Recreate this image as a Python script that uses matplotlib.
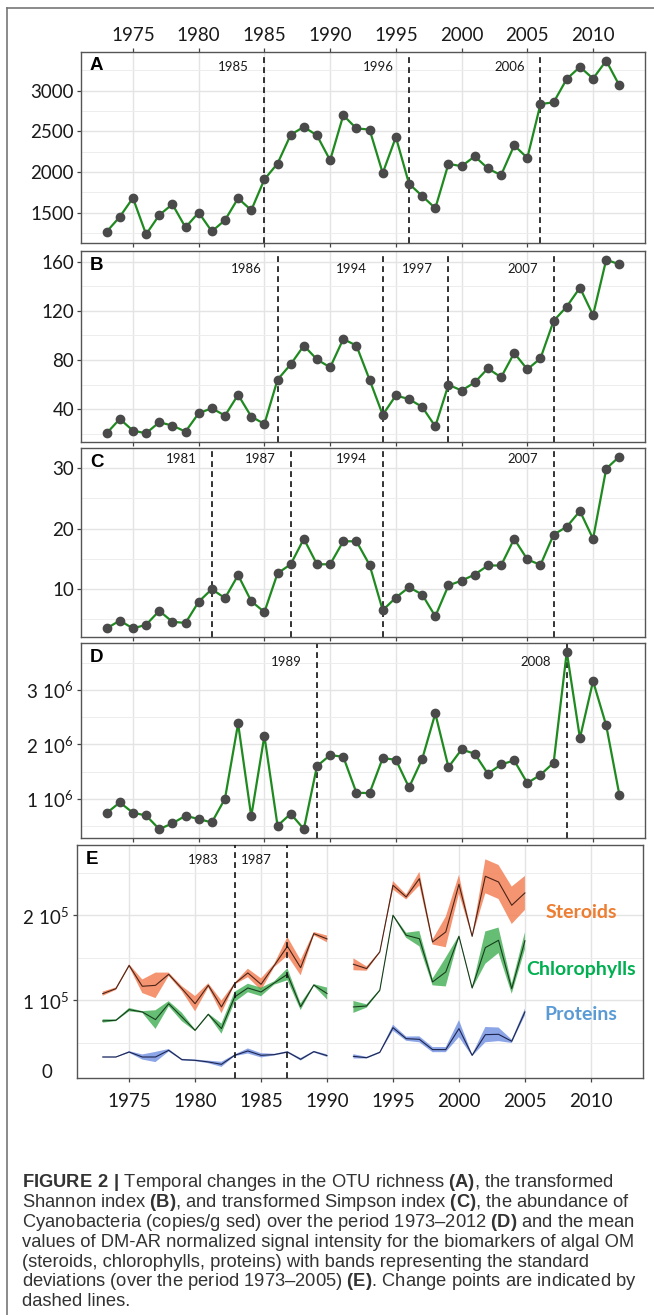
import numpy as np
import matplotlib.pyplot as plt
from matplotlib.lines import Line2D
from matplotlib.ticker import MultipleLocator, FixedLocator

plt.rcParams['font.family'] = ['Lato', 'DejaVu Sans']
plt.rcParams['mathtext.fontset'] = 'custom'
plt.rcParams['mathtext.rm'] = 'Lato'
plt.rcParams['mathtext.bf'] = 'Liberation Sans:bold'

# панели A-D: 1973-2012
years = np.arange(1973, 2013)
otu = [1268, 1451, 1683, 1236, 1472, 1606, 1321, 1504, 1272, 1410,
       1679, 1532, 1911, 2106, 2459, 2557, 2451, 2146, 2699, 2537,
       2524, 1988, 2431, 1858, 1707, 1557, 2102, 2073, 2195, 2045,
       1963, 2329, 2175, 2837, 2858, 3146, 3293, 3150, 3370, 3065]
shannon = [20.4, 32.1, 22.6, 20.4, 29.4, 26.7, 21.8, 36.7, 40.8, 34.8,
           51.7, 34.0, 28.0, 64.0, 76.5, 91.7, 80.5, 74.0, 97.1, 91.7,
           64.0, 35.4, 51.2, 48.2, 41.9, 26.0, 59.9, 55.2, 61.8, 73.2,
           65.9, 85.7, 72.4, 81.4, 111.8, 123.5, 138.8, 116.5, 161.6, 157.8]
simpson = [3.5, 4.8, 3.5, 4.1, 6.4, 4.6, 4.4, 7.9, 10.0, 8.5,
           12.3, 8.0, 6.2, 12.6, 14.1, 18.3, 14.1, 14.1, 17.9, 17.9,
           14.0, 6.5, 8.6, 10.3, 9.1, 5.5, 10.6, 11.4, 12.4, 13.9,
           13.9, 18.3, 14.9, 14.0, 19.0, 20.3, 22.9, 18.3, 29.9, 31.9]
cyano = [0.744, 0.939, 0.75, 0.70, 0.45, 0.555, 0.695, 0.634, 0.573, 1.006,
         2.384, 0.683, 2.159, 0.512, 0.732, 0.451, 1.604, 1.805, 1.774, 1.116,
         1.110, 1.75, 1.72, 1.213, 1.732, 2.567, 1.585, 1.909, 1.829, 1.463,
         1.634, 1.707, 1.293, 1.445, 1.665, 3.695, 2.116, 3.159, 2.348, 1.079]

# change points: where the line is drawn and what is written
cp_pos = [[1985, 1996, 2006], [1986, 1994, 1999, 2007], [1981, 1987, 1994, 2007], [1989, 2008]]
cp_lab = [['1985', '1996', '2006'], ['1986', '1994', '1997', '2007'],
          ['1981', '1987', '1994', '2007'], ['1989', '2008']]

# панель E: 1973-2005, 1991 missing (x 1e5)
e_years = np.arange(1973, 2006)
nan = np.nan
steroids = [1.078, 1.137, 1.41, 1.165, 1.176, 1.306, 1.137, 0.96, 1.176, 0.922,
            1.196, 1.322, 1.188, 1.41, 1.635, 1.384, 1.784, 1.722, nan,
            1.424, 1.373, 1.569, 2.353, 2.216, 2.431, 1.686, 1.804, 2.365, 1.753,
            2.459, 2.392, 2.118, 2.263]
steroids_sd = [0.025, 0.015, 0.015, 0.08, 0.15, 0.02, 0.03, 0.09, 0.025, 0.075,
               0.01, 0.05, 0.07, 0.02, 0.11, 0.09, 0.02, 0.04, nan,
               0.07, 0.025, 0.01, 0.05, 0.03, 0.08, 0.03, 0.18, 0.11, 0.01,
               0.2, 0.2, 0.22, 0.2]
chloro = [0.757, 0.765, 0.89, 0.863, 0.773, 0.96, 0.804, 0.647, 0.835, 0.667,
          1.04, 1.145, 1.098, 1.204, 1.306, 0.925, 1.18, 1.08, nan,
          0.922, 0.933, 1.118, 2.0, 1.765, 1.725, 1.216, 1.333, 1.753, 1.145,
          1.62, 1.706, 1.137, 1.70]
chloro_sd = [0.02, 0.01, 0.02, 0.01, 0.11, 0.03, 0.05, 0.01, 0.01, 0.06,
             0.06, 0.05, 0.05, 0.02, 0.07, 0.04, 0.01, 0.07, nan,
             0.07, 0.02, 0.01, 0.01, 0.03, 0.09, 0.04, 0.17, 0.01, 0.01,
             0.19, 0.15, 0.06, 0.1]
proteins = [0.333, 0.333, 0.392, 0.333, 0.333, 0.412, 0.302, 0.294, 0.275, 0.247,
            0.353, 0.404, 0.353, 0.361, 0.392, 0.306, 0.396, 0.349, nan,
            0.341, 0.325, 0.388, 0.678, 0.549, 0.541, 0.42, 0.42, 0.667, 0.353,
            0.596, 0.6, 0.518, 0.863]
proteins_sd = [0.005, 0.005, 0.01, 0.03, 0.06, 0.015, 0.01, 0.01, 0.015, 0.03,
               0.01, 0.03, 0.025, 0.01, 0.01, 0.015, 0.01, 0.015, nan,
               0.025, 0.01, 0.01, 0.035, 0.025, 0.035, 0.03, 0.03, 0.1, 0.01,
               0.09, 0.08, 0.02, 0.04]
cp_e = [1983, 1987]
series_names = ['Steroids', 'Chlorophylls', 'Proteins']

caption = [
    r"$\mathbf{FIGURE\ 2\ |}$ Temporal changes in the OTU richness $\mathbf{(A)}$, the transformed",
    r"Shannon index $\mathbf{(B)}$, and transformed Simpson index $\mathbf{(C)}$, the abundance of",
    r"Cyanobacteria (copies/g sed) over the period 1973–2012 $\mathbf{(D)}$ and the mean",
    "values of DM-AR normalized signal intensity for the biomarkers of algal OM",
    "(steroids, chlorophylls, proteins) with bands representing the standard",
    r"deviations (over the period 1973–2005) $\mathbf{(E)}$. Change points are indicated by",
    "dashed lines.",
]

W, H = 654, 1315
fig = plt.figure(figsize=(W / 100, H / 100), dpi=100)


def px_axes(l, t, r, b):
    return fig.add_axes([l / W, 1 - b / H, (r - l) / W, (b - t) / H])


def style(ax, minor):
    ax.set_xlim(1971.05, 2013.95)
    ax.xaxis.set_major_locator(FixedLocator(range(1975, 2011, 5)))
    ax.yaxis.set_minor_locator(MultipleLocator(minor))
    ax.grid(which='major', color='#e4e4e4', lw=1.0)
    ax.grid(which='minor', axis='y', color='#ededed', lw=0.7)
    ax.set_axisbelow(True)
    for s in ax.spines.values():
        s.set_color('#555555')
        s.set_linewidth(1.0)
    ax.tick_params(which='major', length=3, width=0.9, color='#444444',
                   labelsize=13.5, labelcolor='#1a1a1a', pad=2)
    ax.tick_params(which='minor', length=0)
    ax.tick_params(axis='x', labelbottom=False)


boxes = [(81, 52, 645, 243), (81, 251, 645, 442), (81, 448, 645, 637), (81, 643, 645, 838)]
values = [otu, shannon, simpson, [v * 1e6 for v in cyano]]
letters = ['A', 'B', 'C', 'D']
yticks = [[1500, 2000, 2500, 3000], [40, 80, 120, 160], [10, 20, 30], [1e6, 2e6, 3e6]]
minors = [250, 20, 5, 0.5e6]
label_dy = [15, 18, 11, 19]

for i in range(4):
    ax = px_axes(*boxes[i])
    style(ax, minors[i])
    ax.plot(years, values[i], color='#1f8a1f', lw=1.6, zorder=3)
    ax.plot(years, values[i], 'o', color='#4a4a4a', ms=6, zorder=4)
    ax.set_yticks(yticks[i])
    if i == 3:
        ax.set_yticklabels([r'$\mathrm{%d\ 10^{6}}$' % (v / 1e6) for v in yticks[i]])
    else:
        ax.set_yticklabels([str(v) for v in yticks[i]])
    if i == 0:
        ax.tick_params(axis='x', top=True, labeltop=True, pad=3)
    h = boxes[i][3] - boxes[i][1]
    for p, lab in zip(cp_pos[i], cp_lab[i]):
        ax.axvline(p, color='#111111', lw=1.2, ls=(0, (3.5, 2.5)), zorder=2)
        ax.text(p - 2.35, 1 - label_dy[i] / h, lab, transform=ax.get_xaxis_transform(),
                ha='center', va='center', fontsize=9.5, color='#1a1a1a')
    ax.text(9 / 564, 1 - 14 / h, letters[i], transform=ax.transAxes, ha='left', va='center',
            fontsize=13.5, fontweight='bold', family='Liberation Sans')

# панель E
ax = px_axes(77, 845, 643, 1078)
style(ax, 0.5e5)
ax.set_ylim(8600, 282700)
ax.set_yticks([1e5, 2e5])
ax.set_yticklabels([r'$\mathrm{1\ 10^{5}}$', r'$\mathrm{2\ 10^{5}}$'])
ax.tick_params(axis='x', labelbottom=True, pad=8)
fills = ['#f37a4e', '#33a847', '#5b7fdc']
alphas = [0.8, 0.75, 0.7]
mean_cols = ['#4a2418', '#173d1c', '#1c2550']
txt_cols = ['#ed7d31', '#00b050', '#5b9bd5']
txt_y = [912, 970, 1015]
for m, sd, fc, a, lc, tc, name, ty in zip([steroids, chloro, proteins],
                                          [steroids_sd, chloro_sd, proteins_sd],
                                          fills, alphas, mean_cols, txt_cols,
                                          series_names, txt_y):
    m = np.array(m) * 1e5
    sd = np.array(sd) * 1e5
    ax.fill_between(e_years, m - sd, m + sd, color=fc, alpha=a, lw=0, zorder=2)
    ax.plot(e_years, m, color=lc, lw=0.8, zorder=3)
    fig.text(581 / W, 1 - ty / H, name, ha='center', va='center', fontsize=14,
             fontweight='bold', color=tc)
for p in cp_e:
    ax.axvline(p, color='#111111', lw=1.2, ls=(0, (3.5, 2.5)), zorder=4)
    ax.text(p - 2.35, 1 - 15 / 233, str(p), transform=ax.get_xaxis_transform(),
            ha='center', va='center', fontsize=9.5, color='#1a1a1a')
ax.text(9 / 566, 1 - 15 / 233, 'E', transform=ax.transAxes, ha='left', va='center',
        fontsize=13.5, fontweight='bold', family='Liberation Sans')
fig.text(52 / W, 1 - 1073 / H, '0', ha='right', va='center', fontsize=13.5, color='#1a1a1a')

# рамка
fig.add_artist(Line2D([7 / W, 1], [1 - 8 / H, 1 - 8 / H], color='#777777', lw=1.2))
fig.add_artist(Line2D([7 / W, 7 / W], [0, 1 - 8 / H], color='#777777', lw=1.2))

for k, line in enumerate(caption):
    fig.text(22 / W, 1 - (1187 + k * 19.9) / H, line, ha='left', va='baseline',
             fontsize=13.2, color='#333333', family='Liberation Sans')

fig.savefig('out.png', dpi=100)
